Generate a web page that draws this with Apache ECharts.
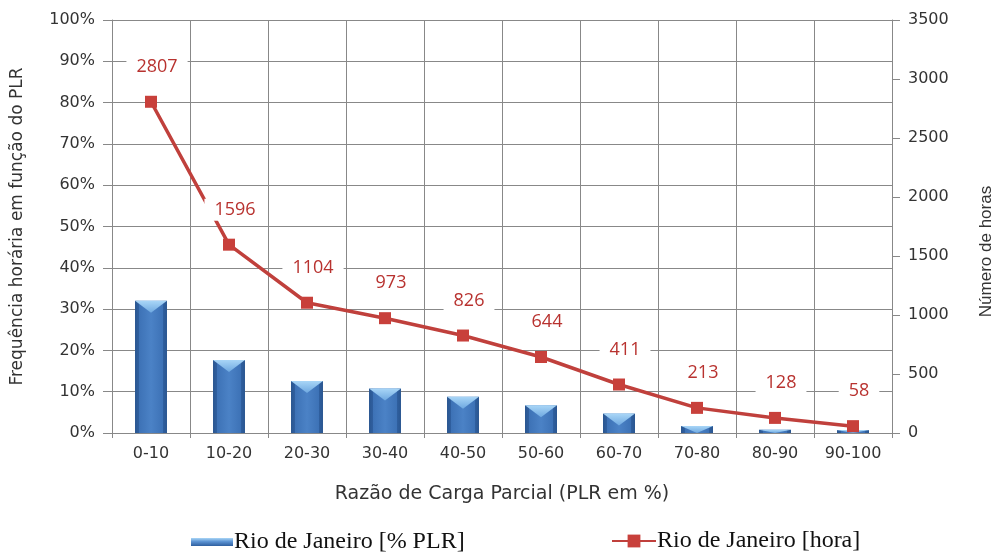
<!DOCTYPE html>
<html><head><meta charset="utf-8">
<script src="https://cdn.jsdelivr.net/npm/echarts@6/dist/echarts.min.js"></script>
<style>html,body{margin:0;padding:0;background:#fff}#c{width:996px;height:552px}</style>
</head><body><div id="c"></div>
<script>
const categories = ['0-10','10-20','20-30','30-40','40-50','50-60','60-70','70-80','80-90','90-100'];
const percentPLR = [32.0, 17.7, 12.6, 10.8, 8.8, 6.7, 4.7, 1.7, 0.8, 0.7];
const hours = [2807, 1596, 1104, 973, 826, 644, 411, 213, 128, 58];
const leftTicks = {min: 0, max: 100, interval: 10};
const rightTicks = {min: 0, max: 3500, interval: 500};

const chart = echarts.init(document.getElementById('c'));
const grey = '#888888';
const tickFont = {fontFamily: 'DejaVu Sans', fontSize: 16, color: '#333333'};

function renderBar(params, api) {
  const idx = api.value(0), v = api.value(1);
  const top = api.coord([idx, v]);
  const base = api.coord([idx, 0]);
  const w = api.size([1, 0])[0] * 0.41;
  const x0 = top[0] - w / 2;
  const h = base[1] - top[1];
  const tri = Math.min(12, h);
  return {
    type: 'group',
    children: [
      {type: 'rect', shape: {x: x0, y: top[1], width: w, height: h},
        style: {fill: new echarts.graphic.LinearGradient(0, 0, 1, 0, [
          {offset: 0, color: '#2a5690'}, {offset: 0.12, color: '#2f5f9f'},
          {offset: 0.13, color: '#3d72b6'}, {offset: 0.5, color: '#4b82c6'},
          {offset: 0.87, color: '#3d72b6'}, {offset: 0.88, color: '#2f5f9f'},
          {offset: 1, color: '#2a5690'}])}},
      {type: 'polygon', shape: {points: [[x0, top[1]], [x0 + w, top[1]], [top[0], top[1] + tri]]},
        style: {fill: new echarts.graphic.LinearGradient(0, 0, 0, 1, [
          {offset: 0, color: '#a9d6f7'}, {offset: 1, color: '#6ea8e0'}])}}
    ]
  };
}

chart.setOption({
  backgroundColor: '#ffffff',
  animation: false,
  grid: {left: 112, right: 104, top: 20, bottom: 119, outerBoundsMode: 'none'},
  legend: [
    {left: 186, top: 525, itemWidth: 42, itemHeight: 8, icon: 'rect', itemGap: 4,
      data: [{name: 'Rio de Janeiro [% PLR]', itemStyle: {color: new echarts.graphic.LinearGradient(0,0,0,1,[{offset:0,color:'#a9d6f7'},{offset:0.45,color:'#5b92d2'},{offset:1,color:'#2f5f9f'}])}}],
      textStyle: {fontFamily: 'Liberation Serif', fontSize: 24, color: '#111', padding: [0,0,0,-4]}},
    {left: 606, top: 524, itemWidth: 44, itemHeight: 16, itemGap: 4,
      data: ['Rio de Janeiro [hora]'],
      textStyle: {fontFamily: 'Liberation Serif', fontSize: 24, color: '#111', padding: [0,0,0,-4]}}
  ],
  xAxis: {
    type: 'category', data: categories, boundaryGap: true,
    name: 'Razão de Carga Parcial (PLR em %)', nameLocation: 'middle', nameGap: 52,
    nameTextStyle: {fontFamily: 'DejaVu Sans', fontSize: 19, color: '#333333'},
    axisLine: {lineStyle: {color: grey}},
    axisTick: {show: true, length: 5, lineStyle: {color: grey}},
    axisLabel: Object.assign({margin: 13}, tickFont),
    splitLine: {show: true, lineStyle: {color: grey, width: 1}}
  },
  yAxis: [
    Object.assign({type: 'value', position: 'left',
      name: 'Frequência horária em função do PLR', nameLocation: 'middle', nameGap: 86,
      nameTextStyle: {fontFamily: 'DejaVu Sans', fontSize: 17, color: '#333333'},
      axisLine: {show: true, lineStyle: {color: grey}},
      axisTick: {show: true, length: 9, lineStyle: {color: grey}},
      axisLabel: Object.assign({formatter: '{value}%', margin: 17}, tickFont),
      splitLine: {show: true, lineStyle: {color: grey, width: 1}}}, leftTicks),
    Object.assign({type: 'value', position: 'right',
      name: 'Número de horas', nameLocation: 'middle', nameGap: 86, nameRotate: 90,
      nameTextStyle: {fontFamily: 'Liberation Sans', fontSize: 17, color: '#333333', padding: [0, 50, 0, 0]},
      axisLine: {show: true, lineStyle: {color: grey}},
      axisTick: {show: true, length: 8, lineStyle: {color: grey}},
      axisLabel: Object.assign({margin: 16, formatter: v => String(v)}, tickFont),
      splitLine: {show: false}}, rightTicks)
  ],
  series: [
    {name: 'Rio de Janeiro [% PLR]', type: 'custom', yAxisIndex: 0,
      itemStyle: {color: '#4b82c6'},
      encode: {x: 0, y: 1},
      data: percentPLR.map((v, i) => [i, v]),
      renderItem: renderBar, z: 2},
    {name: 'Rio de Janeiro [hora]', type: 'line', yAxisIndex: 1, data: hours,
      symbol: 'rect', symbolSize: 12,
      lineStyle: {color: '#c0403c', width: 3.5},
      itemStyle: {color: '#c8403b'},
      label: {show: true, position: 'top', distance: 18, offset: [6, 0],
        fontFamily: 'Open Sans', fontSize: 18, color: '#b8322f',
        backgroundColor: '#ffffff', padding: [2, 10]},
      z: 3}
  ]
});
</script></body></html>
